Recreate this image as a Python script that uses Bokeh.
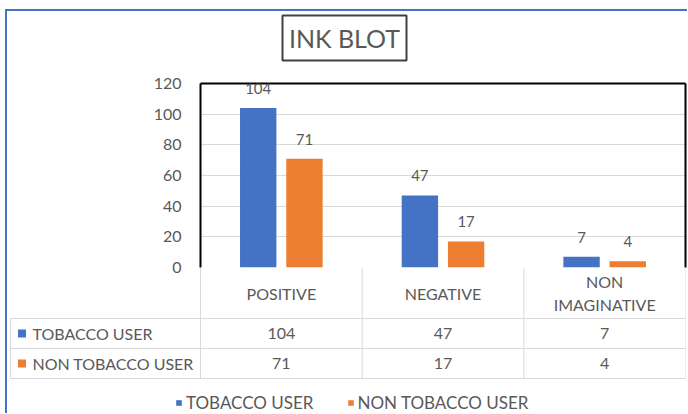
from bokeh.plotting import figure
from bokeh.models import (ColumnDataSource, Range1d, FactorRange, LinearAxis, FixedTicker,
                          LabelSet, Legend, LegendItem)
from bokeh.transform import dodge
from bokeh.layouts import column
from bokeh.core.properties import value
from bokeh.embed import file_html
from bokeh.resources import INLINE

# ---------------- data ----------------
categories = ["POSITIVE", "NEGATIVE", "NON IMAGINATIVE"]
header_labels = ["POSITIVE", "NEGATIVE", "NON\nIMAGINATIVE"]
series_names = ["TOBACCO USER", "NON TOBACCO USER"]
tobacco_user = [104, 47, 7]
non_tobacco_user = [71, 17, 4]
y_ticks = [0, 20, 40, 60, 80, 100, 120]
title_text = "INK BLOT"

# ---------------- style ----------------
BLUE = "#4472C4"
ORANGE = "#ED7D31"
TEXT = "#595959"
GRID = "#D9D9D9"
FONT = "Lato"

W = 680
LEFT = 193
RIGHT = 2
PLOT_W = W - LEFT - RIGHT
PX = PLOT_W / len(categories)      # pixels per category
OFF = 0.143
BAR_W = 0.225

TITLE_H = 60
TITLE_BOX = (275, 4, 124, 45)      # left, top, width, height (px)

CHART_H = 208
FRAME_TOP = 12
CHART_BOTTOM = 12

TAB_H = 146
HEADER_H = 51
ROW_H = 30
TABLE_LEFT_PX = 3
KEY_CX = 14.5
ROW_TEXT_X = 25


def setup(fig):
    if "frame_align" in fig.properties():
        fig.frame_align = False


# ---------------- title ----------------
tl, tt, tw, th = TITLE_BOX
tf = figure(width=W, height=TITLE_H, x_range=Range1d(-1, 1), y_range=Range1d(-1, 1),
            x_axis_location=None, y_axis_location=None, output_backend="svg",
            toolbar_location=None, min_border_left=tl, min_border_right=W - tl - tw,
            min_border_top=tt, min_border_bottom=TITLE_H - tt - th,
            outline_line_color="#404040", outline_line_width=2,
            background_fill_color="white", border_fill_color="white")
tf.grid.visible = False
setup(tf)
tf.text(x=[0], y=[0], text=[title_text], text_align="center", text_baseline="middle",
        text_font=value(FONT), text_font_size="25px", text_color=TEXT)

# ---------------- chart ----------------
src = ColumnDataSource(dict(
    cat=categories,
    tob=tobacco_user,
    non=non_tobacco_user,
    tob_s=[str(v) for v in tobacco_user],
    non_s=[str(v) for v in non_tobacco_user],
))

p = figure(width=W, height=CHART_H, x_range=FactorRange(*categories),
           y_range=Range1d(y_ticks[0], y_ticks[-1]),
           x_axis_location=None, output_backend="svg", toolbar_location=None,
           min_border_left=LEFT, min_border_right=RIGHT, min_border_top=FRAME_TOP,
           min_border_bottom=CHART_BOTTOM, outline_line_color=None,
           background_fill_color="white", border_fill_color="white")
setup(p)

p.xgrid.visible = False
p.ygrid.grid_line_color = GRID
p.ygrid.grid_line_width = 1

ya = p.yaxis[0]
ya.ticker = FixedTicker(ticks=y_ticks)
ya.axis_line_color = "black"
ya.axis_line_width = 2
ya.major_tick_line_color = None
ya.minor_tick_line_color = None
ya.major_tick_out = 0
ya.major_tick_in = 0
ya.major_label_standoff = 19
ya.major_label_text_font = FONT
ya.major_label_text_font_size = "16px"
ya.major_label_text_color = TEXT

for side in ("right", "above"):
    ax = LinearAxis(ticker=FixedTicker(ticks=[]), axis_line_color="black", axis_line_width=2,
                    major_tick_line_color=None, minor_tick_line_color=None,
                    major_tick_out=0, major_tick_in=0, minor_tick_out=0,
                    major_label_standoff=0)
    p.add_layout(ax, side)

p.vbar(x=dodge("cat", -OFF, range=p.x_range), top="tob", width=BAR_W, source=src,
       fill_color=BLUE, line_color=None)
p.vbar(x=dodge("cat", OFF, range=p.x_range), top="non", width=BAR_W, source=src,
       fill_color=ORANGE, line_color=None)

for fld, lab, off in (("tob", "tob_s", -OFF), ("non", "non_s", OFF)):
    p.add_layout(LabelSet(x=dodge("cat", off, range=p.x_range), y=fld, text=lab, source=src,
                          text_align="center", text_baseline="bottom", y_offset=14,
                          text_font=value(FONT), text_font_size="15px", text_color=TEXT))

# ---------------- data table ----------------
t = figure(width=W, height=TAB_H, x_range=Range1d(-LEFT / PX, len(categories)),
           y_range=Range1d(-TAB_H, 0), x_axis_location=None, y_axis_location=None,
           output_backend="svg", toolbar_location=None, min_border_left=0,
           min_border_right=RIGHT, min_border_top=0, min_border_bottom=0,
           outline_line_color=None, background_fill_color=None, border_fill_color=None,
           background_fill_alpha=0, border_fill_alpha=0,
           styles={"margin-top": f"-{CHART_BOTTOM}px"})
t.grid.visible = False
setup(t)


def cx(px):
    return (px - LEFT) / PX


n = len(categories)
xl = cx(TABLE_LEFT_PX)
table_bottom = -(HEADER_H + ROW_H * len(series_names))
seg_x0, seg_y0, seg_x1, seg_y1 = [], [], [], []
for i in range(n + 1):
    seg_x0.append(i); seg_y0.append(0); seg_x1.append(i); seg_y1.append(table_bottom)
seg_x0.append(xl); seg_y0.append(-HEADER_H); seg_x1.append(xl); seg_y1.append(table_bottom)
for r in range(len(series_names) + 1):
    yy = -(HEADER_H + ROW_H * r)
    seg_x0.append(xl); seg_y0.append(yy); seg_x1.append(n); seg_y1.append(yy)
t.segment(x0=seg_x0, y0=seg_y0, x1=seg_x1, y1=seg_y1, line_color=GRID, line_width=1)

centers = [i + 0.5 for i in range(n)]
t.text(x=centers, y=[-HEADER_H / 2] * n, text=header_labels, text_align="center",
       text_baseline="middle", text_font=value(FONT), text_font_size="16px",
       text_color=TEXT, text_line_height=1.25)

key_renderers = []
for r, (name, vals, col) in enumerate(zip(series_names, [tobacco_user, non_tobacco_user],
                                          [BLUE, ORANGE])):
    yc = -(HEADER_H + ROW_H * r + ROW_H / 2)
    kr = t.rect(x=[cx(KEY_CX)], y=[yc], width=8, height=8, width_units="screen",
                height_units="screen", fill_color=col, line_color=None)
    key_renderers.append(kr)
    t.text(x=[cx(ROW_TEXT_X)], y=[yc], text=[name], text_align="left", text_baseline="middle",
           text_font=value(FONT), text_font_size="16px", text_color=TEXT)
    t.text(x=centers, y=[yc] * n, text=[str(v) for v in vals], text_align="center",
           text_baseline="middle", text_font=value(FONT), text_font_size="16px",
           text_color=TEXT)

legend = Legend(items=[LegendItem(label=series_names[i], renderers=[key_renderers[i]])
                       for i in range(len(series_names))],
                orientation="horizontal", location=(168, 0), glyph_width=7,
                glyph_height=7, label_standoff=4, spacing=33, padding=0, margin=0,
                border_line_color=None, background_fill_alpha=0,
                label_text_font=FONT, label_text_font_size="17px", label_text_color=TEXT)
t.add_layout(legend)

layout = column(tf, p, t, spacing=0,
                styles={"border-left": "2px solid #4472C4", "border-top": "2px solid #4472C4",
                        "margin-left": "5px", "margin-top": "9px"})

open("out.html", "w").write(file_html(layout, INLINE))
